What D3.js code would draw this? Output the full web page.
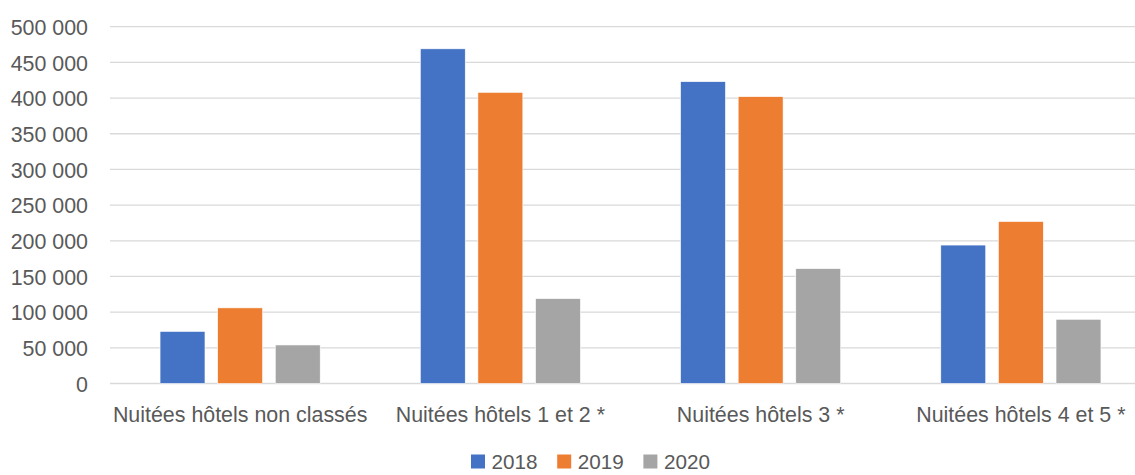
<!DOCTYPE html>
<html>
<head>
<meta charset="utf-8">
<script src="https://cdn.jsdelivr.net/npm/d3@7"></script>
<style>
  body { margin: 0; background: #fff; }
  text { font-family: "Liberation Sans", Arial, sans-serif; fill: #595959; }
</style>
</head>
<body>
<div id="chart"></div>
<script>
const categories = ["Nuitées hôtels non classés", "Nuitées hôtels 1 et 2 *", "Nuitées hôtels 3 *", "Nuitées hôtels 4 et 5 *"];
const years = ["2018", "2019", "2020"];
const values2018 = [73000, 469000, 423000, 194000];
const values2019 = [106000, 408000, 402000, 227000];
const values2020 = [54000, 119000, 161000, 90000];
const yTicks = [0, 50000, 100000, 150000, 200000, 250000, 300000, 350000, 400000, 450000, 500000];
const colors = ["#4472C4", "#ED7D31", "#A5A5A5"];

const W = 1135, H = 475;
const plot = { left: 110, right: 1151, top: 26.7, bottom: 383.5 };

const series = [values2018, values2019, values2020];
const rows = categories.map((c, i) => ({
  cat: c,
  vals: years.map((y, j) => ({ year: y, value: series[j][i] }))
}));

const fr = d3.formatLocale({ decimal: ",", thousands: " ", grouping: [3], currency: ["", " €"] });
const fmt = fr.format(",d");

const svg = d3.select('#chart').append('svg')
  .attr('width', W)
  .attr('height', H);

const y = d3.scaleLinear().domain([0, 500000]).range([plot.bottom, plot.top]);

const x0 = d3.scaleBand()
  .domain(categories)
  .range([plot.left, plot.right])
  .paddingInner(0.3846)
  .paddingOuter(0.1923);

const x1 = d3.scaleBand()
  .domain(years)
  .range([0, x0.bandwidth()])
  .paddingInner(0.22);

const color = d3.scaleOrdinal().domain(years).range(colors);

// gridlines
svg.append('g')
  .selectAll('line')
  .data(yTicks)
  .enter().append('line')
  .attr('x1', plot.left)
  .attr('x2', W)
  .attr('y1', d => y(d))
  .attr('y2', d => y(d))
  .style('stroke', '#D9D9D9')
  .style('stroke-width', 1.3);

// y axis labels
const yAxis = svg.append('g')
  .attr('transform', 'translate(88,0)')
  .call(d3.axisLeft(y).tickValues(yTicks).tickFormat(fmt).tickSize(0).tickPadding(0));
yAxis.select('.domain').remove();
yAxis.selectAll('text')
  .style('font-size', '21.4px')
  .style('font-family', '"Liberation Sans", Arial, sans-serif')
  .attr('fill', '#595959')
  .attr('dy', '0.36em');

// bars
const groups = svg.append('g')
  .selectAll('g')
  .data(rows)
  .enter().append('g')
  .attr('transform', d => `translate(${x0(d.cat)},0)`);

groups.selectAll('rect')
  .data(d => d.vals)
  .enter().append('rect')
  .attr('x', d => x1(d.year))
  .attr('width', x1.bandwidth())
  .attr('y', d => y(d.value))
  .attr('height', d => y(0) - y(d.value))
  .style('fill', d => color(d.year))
  .style('stroke', '#fff')
  .style('stroke-width', 0.6);

// category labels
const xAxis = svg.append('g')
  .attr('transform', `translate(0,${plot.bottom})`)
  .call(d3.axisBottom(x0).tickSize(0).tickPadding(0));
xAxis.select('.domain').remove();
xAxis.selectAll('text')
  .style('font-size', '21.4px')
  .style('font-family', '"Liberation Sans", Arial, sans-serif')
  .attr('fill', '#595959')
  .attr('y', 38)
  .attr('dy', 0);

// legend (moved up so the labels stay inside the frame)
const legend = svg.append('g')
  .attr('class', 'legend')
  .attr('transform', 'translate(471,453.5)');

const entries = legend.selectAll('.legend-entry')
  .data(years)
  .enter().append('g')
  .attr('class', 'legend-entry')
  .attr('transform', (d, i) => `translate(${i * 86.2},0)`);

entries.append('rect')
  .attr('y', 1)
  .attr('width', 14)
  .attr('height', 14)
  .style('fill', d => color(d));

entries.append('text')
  .attr('x', 20.5)
  .attr('y', 15.5)
  .style('font-size', '20.7px')
  .text(d => d);
</script>
</body>
</html>
